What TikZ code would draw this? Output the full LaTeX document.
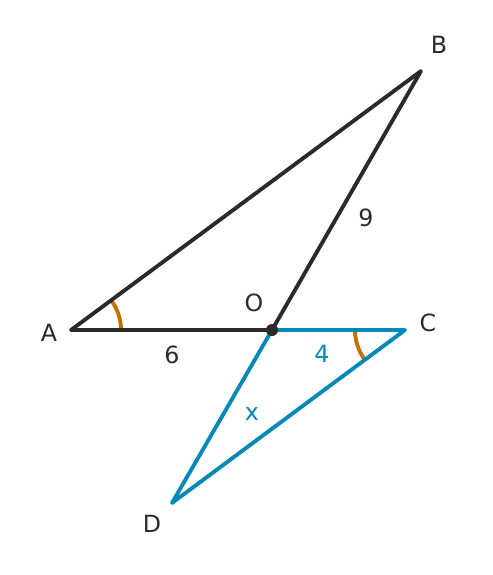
\documentclass[tikz,border=0pt]{standalone}
\usepackage{fontspec}
\setmainfont{DejaVu Sans}
\usetikzlibrary{positioning}
\definecolor{darkline}{HTML}{2A2A2A}
\definecolor{blueline}{HTML}{0088B6}
\definecolor{anglecol}{HTML}{C27000}
\tikzset{
    x=0.02cm, y=-0.02cm, % one unit is one pixel of the reference
    every node/.style={font=\fontsize{13.5}{16}\selectfont, text=darkline}, % labels
    side/.style={line width=2.2pt, line join=round, line cap=round}, % triangle sides
    anglemark/.style={anglecol, line width=2.2pt}, % equal angle arcs
    }
\begin{document}
\begin{tikzpicture}
\useasboundingbox (0,0) rectangle (493,575);
\coordinate (A) at (71,330);
\coordinate (B) at (421,71);
\coordinate (O) at (272,330);
\coordinate (C) at (405,330);
\coordinate (D) at (172,503);

% angle arcs
\draw[anglemark] ([xshift=50*0.02cm]A) arc[start angle=0, end angle=36.5, radius=1cm];
\draw[anglemark] ([xshift=-50*0.02cm]C) arc[start angle=180, end angle=216.6, radius=1cm];

% triangles
\draw[side, darkline] (O) -- (A) -- (B) -- cycle;
\draw[side, blueline] (O) -- (C) -- (D) -- cycle;
\fill[darkline] (O) circle[radius=0.12cm];

% vertex labels
\node (lA) at (49,333) {A};
\node (lB) at (439,45) {B};
\node (lO) at (254,303) {O};
\node (lC) at (428,323) {C};
\node (lD) at (152,524) {D};

% side labels
\node (l6) at (172,355) {6};
\node (l9) at (366,218) {9};
\node[text=blueline] (l4) at (322,354) {4};
\node[text=blueline] (lx) at (252,414) {x};
\end{tikzpicture}
\end{document}
